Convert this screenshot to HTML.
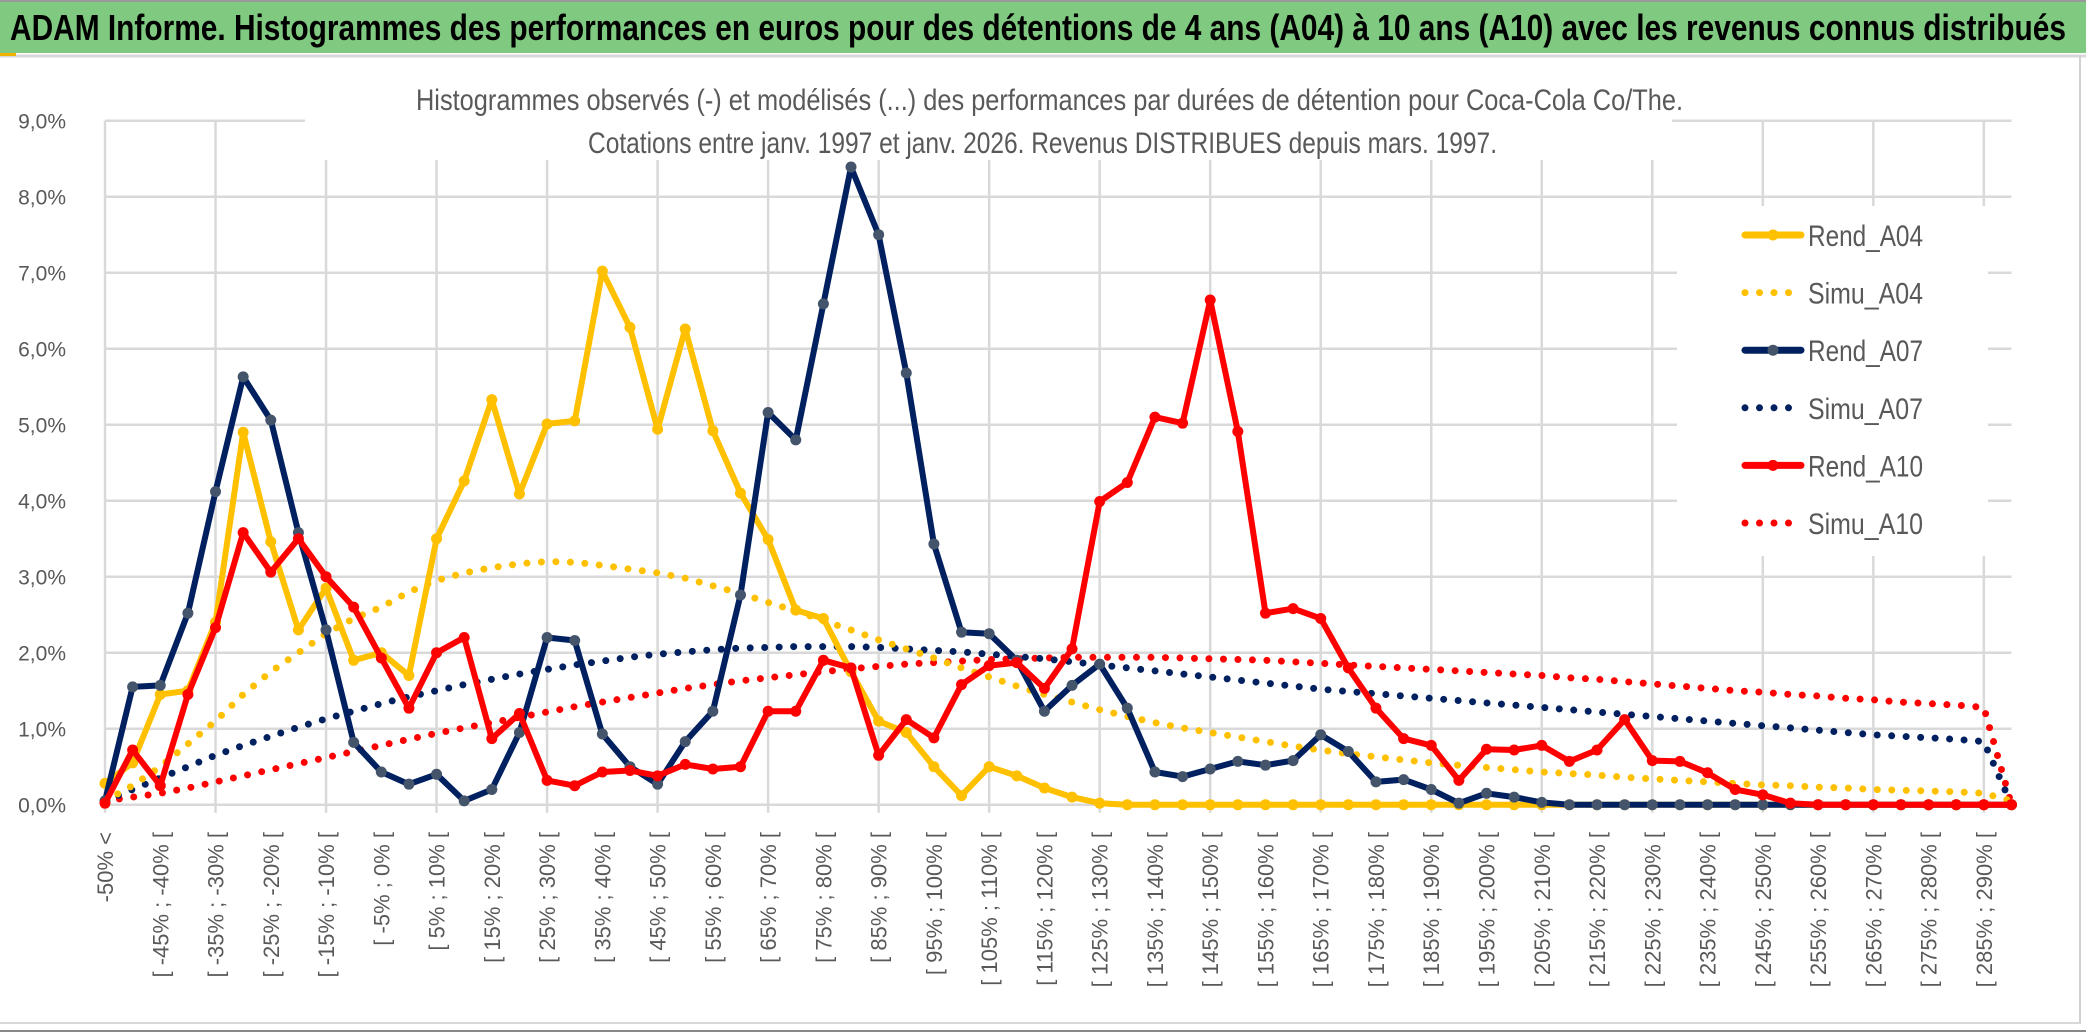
<!DOCTYPE html>
<html><head><meta charset="utf-8"><style>
html,body{margin:0;padding:0;background:#fff;}
svg{display:block;font-family:"Liberation Sans",sans-serif;}
</style></head><body>
<svg id="chart" width="2086" height="1033" viewBox="0 0 2086 1033" xmlns="http://www.w3.org/2000/svg">
<rect x="0" y="0" width="2086" height="1033" fill="#fff"/>
<rect x="0" y="2" width="2086" height="51" fill="#80c980"/>
<line x1="0" y1="1" x2="2086" y2="1" stroke="#999" stroke-width="2"/>
<line x1="0" y1="56" x2="2086" y2="56" stroke="#d8d8d8" stroke-width="3"/>
<rect x="0" y="53" width="16" height="3" fill="#f0b400"/>
<line x1="2080" y1="56" x2="2080" y2="1024" stroke="#d0d0d0" stroke-width="2"/>
<line x1="0" y1="1023" x2="2080" y2="1023" stroke="#d8d8d8" stroke-width="2"/>
<line x1="0" y1="1031" x2="2086" y2="1031" stroke="#888" stroke-width="2"/>
<text x="10" y="40" font-size="36" font-weight="bold" fill="#000" textLength="2056" lengthAdjust="spacingAndGlyphs">ADAM Informe. Histogrammes des performances en euros pour des détentions de 4 ans (A04) à 10 ans (A10) avec les revenus connus distribués</text>
<g id="grid"></g>
<rect x="305" y="70" width="1367" height="90" fill="#fff"/>
<text x="416" y="110" font-size="30" fill="#595959" textLength="1267" lengthAdjust="spacingAndGlyphs">Histogrammes observés (-) et modélisés (...) des performances par durées de détention pour Coca-Cola Co/The.</text>
<text x="588" y="153" font-size="30" fill="#595959" textLength="909" lengthAdjust="spacingAndGlyphs">Cotations entre janv. 1997 et janv. 2026. Revenus DISTRIBUES depuis mars. 1997.</text>
<g id="xlabels"></g>
<g id="ylabels"></g>
<g id="series"></g>
<g id="legend"></g>
</svg>
<script>
const categories = (function(){const a=["-50% <"];for(let k=1;k<70;k++){const lo=-50+5*(k-1);a.push("[ "+lo+"% ; "+(lo+5)+"% [");}return a;})();
const yTicks = [0,1,2,3,4,5,6,7,8,9];
const yTickLabels = ["0,0%","1,0%","2,0%","3,0%","4,0%","5,0%","6,0%","7,0%","8,0%","9,0%"];
const rendA04 = [0.28,0.55,1.45,1.5,2.4,4.9,3.46,2.3,2.85,1.9,2.0,1.7,3.5,4.26,5.33,4.09,5.01,5.05,7.02,6.28,4.94,6.26,4.92,4.1,3.49,2.56,2.45,1.75,1.1,0.95,0.5,0.12,0.5,0.38,0.22,0.1,0.02,0,0,0,0,0,0,0,0,0,0,0,0,0,0,0,0,0,0,0,0,0,0,0,0,0,0,0,0,0,0,0,0,0];
const simuA04 = [0.05,0.25,0.5,0.8,1.1,1.45,1.75,2.0,2.25,2.45,2.6,2.8,2.95,3.05,3.12,3.17,3.2,3.19,3.15,3.1,3.05,2.98,2.88,2.78,2.66,2.55,2.42,2.3,2.17,2.05,1.93,1.8,1.68,1.56,1.45,1.35,1.25,1.16,1.08,1.01,0.95,0.89,0.83,0.77,0.72,0.67,0.63,0.59,0.55,0.52,0.49,0.46,0.43,0.41,0.39,0.36,0.34,0.32,0.3,0.28,0.26,0.25,0.23,0.22,0.2,0.19,0.18,0.17,0.15,0.05];
const rendA07 = [0.05,1.55,1.57,2.52,4.12,5.63,5.06,3.58,2.3,0.82,0.43,0.27,0.4,0.05,0.2,0.95,2.2,2.16,0.93,0.5,0.27,0.83,1.23,2.76,5.16,4.8,6.59,8.39,7.5,5.68,3.43,2.27,2.25,1.9,1.23,1.57,1.85,1.27,0.43,0.37,0.47,0.57,0.52,0.58,0.92,0.7,0.3,0.33,0.2,0.02,0.15,0.1,0.03,0,0,0,0,0,0,0,0,0,0,0,0,0,0,0,0,0];
const simuA07 = [0.05,0.2,0.35,0.5,0.65,0.78,0.9,1.02,1.13,1.23,1.33,1.42,1.5,1.58,1.65,1.72,1.78,1.84,1.89,1.94,1.98,2.01,2.04,2.06,2.07,2.08,2.08,2.08,2.07,2.05,2.03,2.01,1.98,1.95,1.92,1.88,1.84,1.8,1.76,1.72,1.68,1.64,1.6,1.56,1.52,1.49,1.46,1.43,1.4,1.37,1.34,1.31,1.28,1.25,1.22,1.19,1.16,1.13,1.1,1.07,1.04,1.01,0.98,0.95,0.92,0.9,0.88,0.86,0.83,0.0];
const rendA10 = [0.02,0.72,0.25,1.45,2.33,3.58,3.06,3.5,3.0,2.6,1.93,1.27,2.0,2.2,0.87,1.2,0.32,0.25,0.43,0.45,0.38,0.53,0.47,0.5,1.23,1.23,1.9,1.8,0.65,1.12,0.88,1.58,1.83,1.87,1.53,2.05,3.99,4.24,5.1,5.02,6.64,4.91,2.52,2.58,2.45,1.8,1.27,0.87,0.78,0.32,0.73,0.72,0.78,0.57,0.72,1.12,0.58,0.57,0.42,0.2,0.13,0.02,0,0,0,0,0,0,0,0];
const simuA10 = [0.05,0.1,0.15,0.22,0.3,0.38,0.46,0.54,0.62,0.7,0.78,0.86,0.94,1.01,1.08,1.15,1.22,1.29,1.35,1.41,1.47,1.53,1.58,1.63,1.67,1.71,1.75,1.79,1.82,1.85,1.87,1.89,1.91,1.92,1.93,1.94,1.94,1.94,1.94,1.93,1.92,1.91,1.9,1.88,1.86,1.84,1.82,1.8,1.78,1.76,1.74,1.72,1.7,1.67,1.65,1.62,1.59,1.56,1.53,1.5,1.48,1.45,1.43,1.4,1.38,1.35,1.33,1.31,1.28,0.0];

const NS="http://www.w3.org/2000/svg";
const X0=105, DX=27.63, Y0=804.7, DY=76;
function xPos(i){return X0+i*DX;}
function yPos(v){return Y0-v*DY;}
function mk(tag,attrs,parent){const e=document.createElementNS(NS,tag);for(const k in attrs)e.setAttribute(k,attrs[k]);parent.appendChild(e);return e;}

const grid=document.getElementById('grid');
const xEnd=xPos(categories.length-1);
yTicks.forEach(function(t){
  const l=mk('line',{x1:X0,x2:xEnd,y1:yPos(t),y2:yPos(t),stroke:'#d9d9d9','stroke-width':2.5},grid);
  
  
});
for(let i=0;i<categories.length;i+=4){
  const l=mk('line',{x1:xPos(i),x2:xPos(i),y1:yPos(9),y2:yPos(0)+8,stroke:'#d9d9d9','stroke-width':2.5},grid);
  
  
}

const yl=document.getElementById('ylabels');
yTicks.forEach(function(t,i){
  const e=mk('text',{x:66,y:yPos(t)+8,'font-size':21,fill:'#595959','text-anchor':'end'},yl);
  e.textContent=yTickLabels[i];
  
  
});

const xl=document.getElementById('xlabels');
for(let i=0;i<categories.length;i+=2){
  const x=xPos(i)+8, y=832;
  const e=mk('text',{x:x,y:y,'font-size':22,fill:'#595959','text-anchor':'end',transform:'rotate(-90 '+x+' '+y+')'},xl);
  e.textContent=categories[i];
  
  
}

const sg=document.getElementById('series');
function pts(arr){return arr.map(function(v,i){return xPos(i).toFixed(1)+','+yPos(v).toFixed(1);}).join(' ');}
function dotted(arr,color,name){
  const p=mk('polyline',{points:pts(arr),fill:'none',stroke:color,'stroke-width':7,'stroke-linecap':'round','stroke-dasharray':'0 14.5'},sg);
  
  
}
function solid(arr,color,mcolor,name){
  const p=mk('polyline',{points:pts(arr),fill:'none',stroke:color,'stroke-width':6,'stroke-linejoin':'round'},sg);
  
  
  arr.forEach(function(v,i){
    const c=mk('circle',{cx:xPos(i),cy:yPos(v),r:5.5,fill:mcolor},sg);
    
    
  });
}
dotted(simuA10,'#ff0000','simu-a10-line');
dotted(simuA07,'#002060','simu-a07-line');
dotted(simuA04,'#ffc000','simu-a04-line');
solid(rendA04,'#ffc000','#ffc000','rend-a04-line');
solid(rendA07,'#002060','#44546a','rend-a07-line');
solid(rendA10,'#ff0000','#ff0000','rend-a10-line');

const lg=document.getElementById('legend');
const bg=mk('rect',{x:1677,y:206,width:311,height:350,fill:'#fff'},lg);


const legNames=['Rend_A04','Simu_A04','Rend_A07','Simu_A07','Rend_A10','Simu_A10'];
const legColors=['#ffc000','#ffc000','#002060','#002060','#ff0000','#ff0000'];
const legMarker=['#ffc000','','#44546a','','#ff0000',''];
legNames.forEach(function(n,i){
  const y=235+i*57.6;
  const g=mk('g',{},lg);
  
  
  if(i%2===0){
    mk('line',{x1:1745,x2:1801,y1:y,y2:y,stroke:legColors[i],'stroke-width':7,'stroke-linecap':'round'},g);
    mk('circle',{cx:1773,cy:y,r:5.5,fill:legMarker[i]},g);
  }else{
    mk('line',{x1:1745,x2:1795,y1:y,y2:y,stroke:legColors[i],'stroke-width':7,'stroke-linecap':'round','stroke-dasharray':'0 14.5'},g);
  }
  const t=mk('text',{x:1808,y:y+11,'font-size':30,fill:'#595959',textLength:115,lengthAdjust:'spacingAndGlyphs'},g);
  t.textContent=n;
});
</script>
</body></html>
